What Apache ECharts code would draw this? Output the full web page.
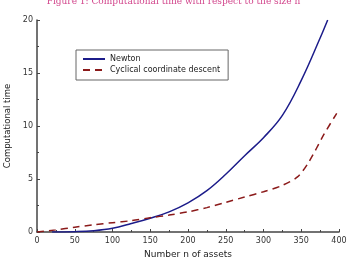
<!DOCTYPE html>
<html>
<head>
    <meta charset="utf-8">
    <title>Computational time</title>
    <script src="https://cdn.jsdelivr.net/npm/echarts@6/dist/echarts.min.js"></script>
    <style>body{margin:0;background:#fff;}</style>
</head>
<body>
    <div id="main" style="width: 347px;height:257px;"></div>
    <script type="text/javascript">
        // number of assets n
        var newtonN = [20, 50, 75, 100, 125, 150, 175, 200, 225, 250, 275, 300, 325, 350, 375, 385];
        var newtonT = [0, 0.03, 0.12, 0.35, 0.8, 1.3, 1.9, 2.75, 3.9, 5.45, 7.2, 8.9, 11.0, 14.3, 18.3, 20];
        var ccdN = [0, 25, 50, 75, 100, 125, 150, 175, 200, 225, 250, 275, 300, 325, 345, 360, 380, 397];
        var ccdT = [0, 0.2, 0.45, 0.68, 0.88, 1.07, 1.35, 1.6, 1.9, 2.3, 2.8, 3.3, 3.8, 4.4, 5.2, 6.6, 9.2, 11.2];
        var xTicks = [0, 50, 100, 150, 200, 250, 300, 350, 400];
        var yTicks = [0, 5, 10, 15, 20];

        function pairs(xs, ys) {
            return xs.map(function (x, i) { return [x, ys[i]]; });
        }

        var myChart = echarts.init(document.getElementById('main'));
        var font = 'DejaVu Sans';
        var option = {
            animation: false,
            title: {
                text: 'Figure 1: Computational time with respect to the size n',
                left: 'center',
                top: -8,
                textStyle: { fontFamily: 'DejaVu Serif', fontWeight: 'normal', fontSize: 9, color: '#d2468c' }
            },
            grid: { left: 37, right: 8, top: 20, bottom: 25, outerBoundsMode: 'none' },
            legend: {
                orient: 'vertical',
                left: 76,
                top: 50,
                width: 149,
                itemWidth: 22,
                itemHeight: 8,
                itemGap: 3,
                padding: [5, 8, 6, 6],
                borderColor: '#666',
                borderWidth: 1,
                itemStyle: { opacity: 0 },
                textStyle: { fontFamily: font, fontSize: 8, color: '#222' },
                data: ['Newton', 'Cyclical coordinate descent']
            },
            xAxis: {
                type: 'value',
                min: 0,
                max: 400,
                interval: 50,
                name: 'Number n of assets',
                nameLocation: 'middle',
                nameGap: 15,
                nameTextStyle: { fontFamily: font, fontSize: 9, color: '#222' },
                axisLine: { lineStyle: { color: '#444', width: 1.5 } },
                axisTick: { inside: true, length: 3, lineStyle: { color: '#444' } },
                minorTick: { show: true, splitNumber: 2, length: 2, lineStyle: { color: '#444' } },
                axisLabel: { fontFamily: font, fontSize: 8, color: '#333', margin: 5 },
                splitLine: { show: false }
            },
            yAxis: {
                type: 'value',
                min: 0,
                max: 20,
                interval: 5,
                name: 'Computational time',
                nameLocation: 'middle',
                nameGap: 19,
                nameTextStyle: { fontFamily: font, fontSize: 8.5, color: '#222' },
                axisLine: { show: true, lineStyle: { color: '#444', width: 1.5 } },
                axisTick: { show: true, inside: true, length: 3, lineStyle: { color: '#444' } },
                minorTick: { show: true, splitNumber: 2, length: 2, lineStyle: { color: '#444' } },
                axisLabel: { fontFamily: font, fontSize: 8, color: '#333', margin: 4 },
                splitLine: { show: false }
            },
            series: [
                {
                    name: 'Newton',
                    type: 'line',
                    smooth: 0.4,
                    symbol: 'none',
                    itemStyle: { color: '#1c1c8a' },
                    lineStyle: { color: '#1c1c8a', width: 1.5 },
                    data: pairs(newtonN, newtonT)
                },
                {
                    name: 'Cyclical coordinate descent',
                    type: 'line',
                    smooth: 0.3,
                    symbol: 'none',
                    itemStyle: { color: '#8b1a1a' },
                    lineStyle: { color: '#8b1a1a', width: 1.5, type: [7, 5] },
                    data: pairs(ccdN, ccdT)
                }
            ]
        };
        myChart.setOption(option);
    </script>
</body>
</html>
